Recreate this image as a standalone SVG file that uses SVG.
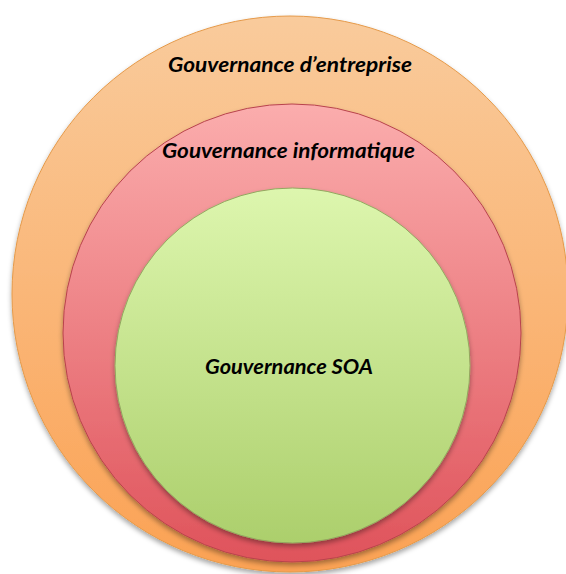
<svg xmlns="http://www.w3.org/2000/svg" width="566" height="574" viewBox="0 0 566 574">
<defs>
<linearGradient id="gO" x1="0" y1="0" x2="0" y2="1"><stop offset="0" stop-color="#F9CB9C"/><stop offset="1" stop-color="#FBA254"/></linearGradient>
<linearGradient id="gR" x1="0" y1="0" x2="0" y2="1"><stop offset="0" stop-color="#FBADAD"/><stop offset="1" stop-color="#DF535B"/></linearGradient>
<linearGradient id="gG" x1="0" y1="0" x2="0" y2="1"><stop offset="0" stop-color="#DDF6AE"/><stop offset="1" stop-color="#ACCF6C"/></linearGradient>
<filter id="sh" x="-10%" y="-10%" width="120%" height="125%"><feDropShadow dx="0" dy="3" stdDeviation="2.5" flood-color="#000" flood-opacity="0.35"/></filter>
</defs>
<style>
.lbl{font-family:Lato,"Open Sans","Liberation Sans",sans-serif;font-weight:bold;font-style:italic;fill:#000;text-anchor:middle}
</style>
<rect width="566" height="574" fill="#fff"/>
<g id="entreprise">
<circle cx="290" cy="294" r="278" fill="url(#gO)" stroke="#E59A4A" stroke-width="1" filter="url(#sh)"/>
<text class="lbl" x="290" y="72" font-size="21" textLength="244" lengthAdjust="spacingAndGlyphs">Gouvernance d’entreprise</text>
</g>
<g id="informatique">
<circle cx="292" cy="333" r="229" fill="url(#gR)" stroke="#B8434C" stroke-width="1" filter="url(#sh)"/>
<text class="lbl" x="288.5" y="158" font-size="21" textLength="253" lengthAdjust="spacingAndGlyphs">Gouvernance informatique</text>
</g>
<g id="soa">
<circle cx="292.5" cy="365.5" r="177.5" fill="url(#gG)" stroke="#93A860" stroke-width="1" filter="url(#sh)"/>
<text class="lbl" x="289" y="374" font-size="20" textLength="168" lengthAdjust="spacingAndGlyphs">Gouvernance SOA</text>
</g>
<g id="connectors"/>
</svg>
